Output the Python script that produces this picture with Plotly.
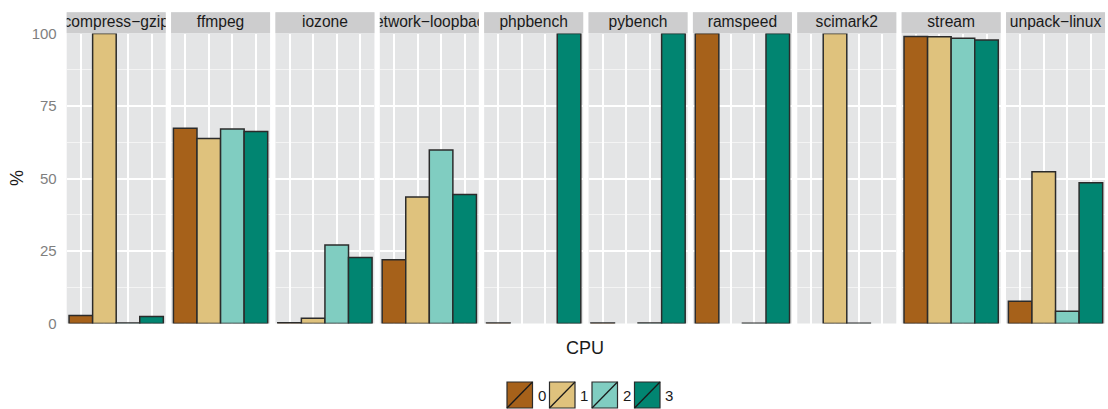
import plotly.graph_objects as go

# ---------------- data ----------------
benchmarks = ["compress−gzip", "ffmpeg", "iozone", "network−loopback", "phpbench",
              "pybench", "ramspeed", "scimark2", "stream", "unpack−linux"]
cpus = ["0", "1", "2", "3"]
cpu0 = [2.8, 67.3, 0.3, 22.0, 0.2, 0.2, 100.0, 0.0, 99.0, 7.7]
cpu1 = [100.0, 63.8, 1.8, 43.6, 0.0, 0.0, 0.0, 100.0, 98.9, 52.3]
cpu2 = [0.2, 67.1, 27.1, 59.8, 0.0, 0.2, 0.1, 0.1, 98.4, 4.2]
cpu3 = [2.4, 66.2, 22.8, 44.5, 100.0, 100.0, 100.0, 0.0, 97.8, 48.5]
y_ticks = [0, 25, 50, 75, 100]
y_minor = [12.5, 37.5, 62.5, 87.5]
colors = ["#A6611A", "#DFC27D", "#80CDC1", "#018571"]

W, H = 1108, 409
panel_left0 = 66.7
panel_step = 104.37
panel_w = 99.0
panel_top, panel_bot = 33.5, 323.5
strip_top, strip_bot = 12.3, 33.3

def px(x):
    return x / W

def py(y):
    return 1 - y / H

fig = go.Figure()
layout = dict(
    width=W, height=H,
    margin=dict(l=0, r=0, t=0, b=0, pad=0, autoexpand=False),
    paper_bgcolor="white",
    plot_bgcolor="#E4E5E6",
    showlegend=False,
    font=dict(family="Liberation Sans, Arial, sans-serif", color="#1A1A1A"),
)
shapes = []
annotations = []

values = list(zip(cpu0, cpu1, cpu2, cpu3))
n = len(benchmarks)
for i, name in enumerate(benchmarks):
    k = i + 1
    ks = "" if k == 1 else str(k)
    left = panel_left0 + i * panel_step
    dom = [px(left), px(left + panel_w)]
    vals = list(values[i])
    fig.add_trace(go.Bar(
        x=[0, 1, 2, 3], y=vals, width=1,
        marker=dict(color=colors,
                    line=dict(color="#2B2B2B", width=[1.5 if v > 0 else 0 for v in vals])),
        xaxis="x" + ks, yaxis="y" + ks, showlegend=False,
        hovertext=[f"CPU {c}" for c in cpus],
    ))
    layout["xaxis" + ks] = dict(
        domain=dom, anchor="y" + ks, range=[-0.6, 3.6], automargin=False,
        tickvals=[0, 1, 2, 3], showticklabels=False, ticks="",
        showgrid=True, gridcolor="white", gridwidth=1.6,
        zeroline=False, showline=False, fixedrange=True,
    )
    layout["yaxis" + ks] = dict(
        domain=[py(panel_bot), py(panel_top)], anchor="x" + ks, range=[0, 100],
        automargin=False,
        tickvals=y_ticks, showticklabels=(k == 1), ticks="",
        tickfont=dict(size=15, color="#7F7F7F"), ticklabelstandoff=9,
        showgrid=True, gridcolor="white", gridwidth=1.6,
        minor=dict(tickvals=y_minor, showgrid=True, gridcolor="#F4F4F4", gridwidth=1.0),
        zeroline=False, showline=False, fixedrange=True,
    )
    # strip subplot
    s = k + n
    ss = str(s)
    fig.add_trace(go.Scatter(
        x=[0.5], y=[0.5], text=[name], mode="text", textposition="middle center",
        textfont=dict(size=15.6, color="#1A1A1A"), cliponaxis=True,
        xaxis="x" + ss, yaxis="y" + ss, showlegend=False, hoverinfo="skip",
    ))
    layout["xaxis" + ss] = dict(domain=dom, anchor="y" + ss, range=[0, 1], visible=False,
                                automargin=False, fixedrange=True)
    layout["yaxis" + ss] = dict(domain=[py(strip_bot), py(strip_top)], anchor="x" + ss,
                                range=[0, 1], visible=False, automargin=False, fixedrange=True)
    shapes.append(dict(type="rect", xref="paper", yref="paper", layer="below",
                       x0=dom[0], x1=dom[1], y0=py(strip_bot), y1=py(strip_top),
                       fillcolor="#CDCDCE", line=dict(width=0)))

# axis titles
annotations.append(dict(text="CPU", x=px(585), y=py(348), xref="paper", yref="paper",
                        showarrow=False, font=dict(size=18, color="#1A1A1A"),
                        xanchor="center", yanchor="middle"))
annotations.append(dict(text="%", x=px(17), y=py(178), xref="paper", yref="paper",
                        showarrow=False, textangle=-90, font=dict(size=18, color="#1A1A1A"),
                        xanchor="center", yanchor="middle"))

# legend (drawn manually, ggplot style keys with diagonal slash)
key_x0 = 507.0
key_step = 42.5
key_w = 25.5
key_top, key_bot = 382.0, 408.0
for j, c in enumerate(cpus):
    x0 = key_x0 + j * key_step
    x1 = x0 + key_w
    shapes.append(dict(type="rect", xref="paper", yref="paper",
                       x0=px(x0), x1=px(x1), y0=py(key_bot), y1=py(key_top),
                       fillcolor=colors[j], line=dict(color="#2B2B2B", width=1.2)))
    shapes.append(dict(type="line", xref="paper", yref="paper",
                       x0=px(x0), x1=px(x1), y0=py(key_bot), y1=py(key_top),
                       line=dict(color="#1A1A1A", width=1.3)))
    annotations.append(dict(text=c, x=px(x1 + 3), y=py((key_top + key_bot) / 2),
                            xref="paper", yref="paper", showarrow=False,
                            font=dict(size=15, color="#1A1A1A"),
                            xanchor="left", yanchor="middle"))

layout["shapes"] = shapes
layout["annotations"] = annotations
fig.update_layout(**layout)
fig.write_html("out.html", config={"displayModeBar": False},
               post_script="document.body.style.margin='0px';document.body.style.overflow='hidden';")
